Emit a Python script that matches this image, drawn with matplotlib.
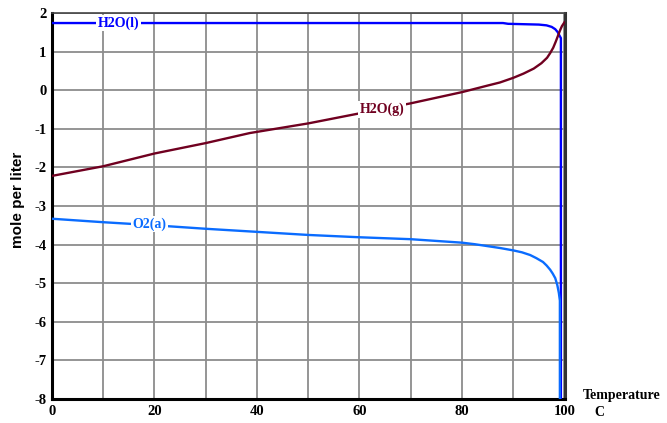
import matplotlib
matplotlib.use("Agg")
import matplotlib.pyplot as plt
import numpy as np

# Data
h2ol_t = [0, 88, 89, 95, 96.5, 97.5, 98.2, 98.7, 99.0, 99.3, 99.3]
h2ol_v = [1.74, 1.74, 1.72, 1.70, 1.68, 1.64, 1.58, 1.50, 1.42, 1.35, -8.0]

h2og_t = [0, 10, 20, 30, 38.6, 50, 60, 70, 80, 85, 87.4, 90, 92, 94, 95.5, 96.6, 97.2, 97.8, 98.3, 98.7, 99.1, 99.5, 100]
h2og_v = [-2.22, -1.97, -1.64, -1.37, -1.11, -0.86, -0.60, -0.34, -0.05, 0.12, 0.20, 0.32, 0.43, 0.56, 0.70, 0.84, 0.96, 1.10, 1.26, 1.40, 1.54, 1.66, 1.76]

o2_t = [0, 10, 20, 30, 40, 50, 60, 70, 80, 82.5, 85, 87.5, 90, 91.7, 93.3, 94.5, 95.8, 96.5, 97.2, 97.7, 98.2, 98.6, 98.9, 99.1, 99.1]
o2_v = [-3.33, -3.42, -3.50, -3.59, -3.67, -3.75, -3.81, -3.86, -3.95, -3.99, -4.04, -4.09, -4.15, -4.20, -4.27, -4.35, -4.45, -4.54, -4.65, -4.75, -4.87, -5.05, -5.25, -5.45, -8.0]

x_ticks = [0, 20, 40, 60, 80, 100]
y_ticks = [-8, -7, -6, -5, -4, -3, -2, -1, 0, 1, 2]

fig = plt.figure(figsize=(6.67, 4.23), dpi=100)
ax = fig.add_axes([52/667, 1 - 399/423, (565-52)/667, (399-13)/423])

ax.set_xlim(0, 100.1)
ax.set_ylim(-8, 2)
ax.grid(True, color='#8c8c8c', linewidth=1.3)
ax.set_axisbelow(True)

c_l = '#0000ff'
c_g = '#700020'
c_o = '#0a6cff'

ax.plot(h2ol_t, h2ol_v, color=c_l, lw=1.7, zorder=3)
ax.plot(h2og_t, h2og_v, color=c_g, lw=1.7, zorder=3)
ax.plot(o2_t, o2_v, color=c_o, lw=1.7, zorder=3)

serif = ['Liberation Serif', 'DejaVu Serif']
tfont = dict(family=serif, weight='bold', fontsize=10)
bbox = dict(facecolor='white', edgecolor='none', pad=1)
ax.text(13, 1.74, 'H2O(l)', color=c_l, ha='center', va='center', bbox=bbox, zorder=4, **tfont)
ax.text(64.4, -0.50, 'H2O(g)', color=c_g, ha='center', va='center', bbox=bbox, zorder=4, **tfont)
ax.text(19, -3.47, 'O2(a)', color=c_o, ha='center', va='center', bbox=bbox, zorder=4, **tfont)

ax.set_xticks(np.arange(0, 101, 10))
ax.set_xticklabels([str(v) if v in x_ticks else '' for v in range(0, 101, 10)])
ax.set_yticks(y_ticks)
ax.set_yticklabels([str(v) for v in y_ticks])
ax.tick_params(length=0, pad=4)
for lab in ax.get_xticklabels() + ax.get_yticklabels():
    lab.set_fontfamily(serif)
    lab.set_fontweight('bold')
    lab.set_fontsize(10.5)

for side in ['left', 'bottom']:
    ax.spines[side].set_linewidth(2.2)
    ax.spines[side].set_color('black')
ax.spines['top'].set_linewidth(1.2)
ax.spines['top'].set_color('#444444')
ax.spines['right'].set_linewidth(2.2)
ax.spines['right'].set_color('#333333')

fig.text(18/667, 1 - 200/423, 'mole per liter', rotation=90, ha='center', va='center',
         family=['Liberation Sans', 'DejaVu Sans'], weight='bold', fontsize=11)
fig.text(622/667, 1 - 395/423, 'Temperature', ha='center', va='center', family=serif, weight='bold', fontsize=10)
fig.text(599/667, 1 - 412/423, 'C', ha='center', va='center', family=serif, weight='bold', fontsize=10)

fig.savefig('out.png', dpi=100)
